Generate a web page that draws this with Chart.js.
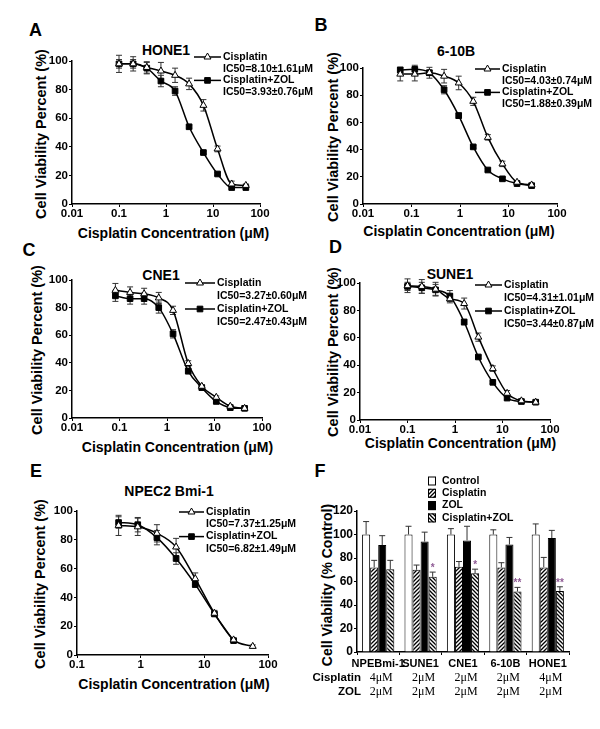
<!DOCTYPE html>
<html>
<head>
<meta charset="utf-8">
<script src="https://cdn.jsdelivr.net/npm/chart.js@4.4.1/dist/chart.umd.min.js"></script>
<style>
body { margin: 0; background: #fff; width: 600px; height: 729px; position: relative; overflow: hidden; font-family: "Liberation Sans", Arial, sans-serif; }
canvas { position: absolute; }
.t { position: absolute; font-weight: bold; color: #000; white-space: nowrap; line-height: 1; transform: translate(-50%, -50%); }
.letter { font-size: 18px; }
.ttl { font-size: 14px; }
.xt { font-size: 14px; }
.yt { font-size: 14.5px; transform: translate(-50%, -50%) rotate(-90deg); }
</style>
</head>
<body>
<div class="t letter" style="left:35.5px;top:30px">A</div>
<div class="t letter" style="left:321px;top:25px">B</div>
<div class="t letter" style="left:29px;top:250px">C</div>
<div class="t letter" style="left:335.5px;top:247px">D</div>
<div class="t letter" style="left:36px;top:471px">E</div>
<div class="t letter" style="left:320px;top:471px">F</div>

<div class="t ttl" style="left:166px;top:50px">HONE1</div>
<div class="t ttl" style="left:456px;top:51px">6-10B</div>
<div class="t ttl" style="left:161px;top:274.5px">CNE1</div>
<div class="t ttl" style="left:450px;top:273.5px">SUNE1</div>
<div class="t ttl" style="left:169px;top:490.5px">NPEC2 Bmi-1</div>

<div class="t xt" style="left:173.5px;top:233px">Cisplatin Concentration (μM)</div>
<div class="t xt" style="left:459px;top:231px">Cisplatin Concentration (μM)</div>
<div class="t xt" style="left:177.5px;top:447px">Cisplatin Concentration (μM)</div>
<div class="t xt" style="left:460.5px;top:443px">Cisplatin Concentration (μM)</div>
<div class="t xt" style="left:174px;top:684px">Cisplatin Concentration (μM)</div>

<div class="t yt" style="left:41px;top:134px">Cell Viability Percent (%)</div>
<div class="t yt" style="left:332.5px;top:137px">Cell Viability Percent (%)</div>
<div class="t yt" style="left:36.5px;top:350px">Cell Viability Percent (%)</div>
<div class="t yt" style="left:332.5px;top:352px">Cell Viability Percent (%)</div>
<div class="t yt" style="left:40px;top:584px">Cell Viability Percent (%)</div>
<div class="t yt" style="left:327px;top:585px;font-size:14px">Cell Viability (% Control)</div>

<canvas id="pA"></canvas>
<canvas id="pB"></canvas>
<canvas id="pC"></canvas>
<canvas id="pD"></canvas>
<canvas id="pE"></canvas>
<canvas id="pF"></canvas>

<script>
// ---- data ----
const decadeTicks = [0.01, 0.1, 1, 10, 100]
const decadeTicksE = [0.1, 1, 10, 100]

// A: HONE1
const hone1Conc = [0.1, 0.2, 0.39, 0.78, 1.56, 3.1, 6.25, 12.5, 25, 50]
const hone1Cis = [98, 98, 95.5, 93, 90, 84, 69, 38.5, 14, 13]
const hone1CisErr = [6, 5, 4, 6, 5, 4, 4, 2, 2, 1]
const hone1Zol = [98, 98, 95, 86, 79, 54, 36, 21, 11.5, 11.5]
const hone1ZolErr = [3, 3, 4, 4, 3, 1, 1, 1, 1, 1]
const hone1Ic50 = ["IC50=8.10±1.61μM", "IC50=3.93±0.76μM"]

// B: 6-10B
const b610Conc = [0.0586, 0.117, 0.234, 0.47, 0.94, 1.875, 3.75, 7.5, 15, 30]
const b610Cis = [95.5, 95.5, 96.5, 94, 89, 75.5, 49, 29.5, 16, 14]
const b610CisErr = [5, 5, 4, 5, 5, 3, 2, 2, 1, 1]
const b610Zol = [98.5, 99, 96.5, 84, 65, 42, 25, 18.5, 15, 13.5]
const b610ZolErr = [2, 3, 2, 3, 2, 1, 1, 1, 1, 1]
const b610Ic50 = ["IC50=4.03±0.74μM", "IC50=1.88±0.39μM"]

// C: CNE1
const cne1Conc = [0.082, 0.167, 0.33, 0.67, 1.34, 2.8, 5.4, 10.9, 21.5, 43]
const cne1Cis = [92.5, 91, 90, 87, 78, 39.5, 23, 15, 8.5, 7]
const cne1CisErr = [5, 4, 4, 4, 3, 2, 1, 1, 1, 1]
const cne1Zol = [88.5, 86.5, 86.5, 80, 61, 34, 22, 12, 7.5, 7]
const cne1ZolErr = [4, 4, 4, 4, 3, 2, 1, 1, 1, 1]
const cne1Ic50 = ["IC50=3.27±0.60μM", "IC50=2.47±0.43μM"]

// D: SUNE1
const sune1Conc = [0.1, 0.2, 0.39, 0.78, 1.56, 3.1, 6.25, 12.5, 25, 50]
const sune1Cis = [98, 97.5, 95.5, 88.5, 85, 60.5, 37.5, 19.5, 14, 13]
const sune1CisErr = [5, 5, 5, 3, 4, 3, 2, 2, 1, 1]
const sune1Zol = [97.5, 96.5, 95, 90.5, 71.5, 46, 27.5, 16, 13.5, 13]
const sune1ZolErr = [3, 4, 4, 4, 2, 1, 1, 1, 1, 1]
const sune1Ic50 = ["IC50=4.31±1.01μM", "IC50=3.44±0.87μM"]

// E: NPEC2 Bmi-1
const npecConc = [0.45, 0.9, 1.8, 3.6, 7.2, 14.4, 28.8, 57.6]
const npecCis = [90, 89, 84.5, 75, 53, 29, 10.5, 6]
const npecCisErr = [7, 6, 6, 6, 4, 2, 1, 1]
const npecZol = [92, 90.5, 81.5, 67, 49, 28.5, 10, null]
const npecZolErr = [4, 5, 5, 4, 2, 1, 1, null]
const npecIc50 = ["IC50=7.37±1.25μM", "IC50=6.82±1.49μM"]

// F: bars
const cellLines = ["NPEBmi-1", "SUNE1", "CNE1", "6-10B", "HONE1"]
const controlVals = [100, 100, 100, 100, 100]
const controlErr = [11, 7, 5, 4, 9]
const cisVals = [72, 70, 72.5, 72, 72]
const cisErr = [6, 4, 4.5, 4, 8.5]
const zolVals = [91, 94, 95, 91.5, 97]
const zolErr = [8, 8, 12, 6, 6.5]
const comboVals = [70.5, 64, 67, 51.5, 52]
const comboErr = [7.5, 4, 3.5, 3.5, 3.5]
const comboSig = ["", "*", "*", "**", "**"]
const cisDose = ["4μM", "2μM", "2μM", "2μM", "4μM"]
const zolDose = ["2μM", "2μM", "2μM", "2μM", "2μM"]

Chart.defaults.font.family = '"Liberation Sans", Arial, sans-serif'
Chart.defaults.color = "#000"
Chart.defaults.animation = false

const pts = (xs, ys) => xs.map((x, i) => ({ x: x, y: ys[i] }))

// error bars: curves get symmetric bars under the markers, bars get an upper bar on top
const errorBars = {
	id: "errorBars",
	beforeDatasetsDraw(chart) { drawErrors(chart, false) },
	afterDatasetsDraw(chart) { drawErrors(chart, true) }
}
function drawErrors(chart, upOnly) {
	const ctx = chart.ctx
	const ys = chart.scales.y
	chart.data.datasets.forEach((ds, i) => {
		if (!ds.errors || !!ds.upOnly !== upOnly) return
		const meta = chart.getDatasetMeta(i)
		ctx.save()
		ctx.strokeStyle = ds.errorColor || "#333"
		ctx.lineWidth = 1
		meta.data.forEach((el, j) => {
			const e = ds.errors[j]
			const raw = ds.data[j]
			const v = raw !== null && typeof raw === "object" ? raw.y : raw
			if (e == null || v == null || el.skip) return
			const x = el.x
			const top = ys.getPixelForValue(v + e)
			const bot = upOnly ? ys.getPixelForValue(v) : ys.getPixelForValue(v - e)
			const c = ds.errorCap || 3
			ctx.beginPath()
			ctx.moveTo(x, bot)
			ctx.lineTo(x, top)
			ctx.moveTo(x - c, top)
			ctx.lineTo(x + c, top)
			if (!upOnly) {
				ctx.moveTo(x - c, bot)
				ctx.lineTo(x + c, bot)
			}
			ctx.stroke()
			if (ds.sig && ds.sig[j]) {
				ctx.fillStyle = "#8e5a94"
				ctx.font = 'bold 10px "Liberation Sans"'
				ctx.textAlign = "center"
				ctx.textBaseline = "middle"
				ctx.fillText(ds.sig[j], x, top - 4)
			}
		})
		ctx.restore()
	})
}

function drawMarker(ctx, style, x, y, r, fill) {
	ctx.beginPath()
	if (style === "triangle") {
		ctx.moveTo(x, y - r)
		ctx.lineTo(x + r * 0.866, y + r * 0.5)
		ctx.lineTo(x - r * 0.866, y + r * 0.5)
		ctx.closePath()
	} else {
		const s = r * Math.SQRT1_2
		ctx.rect(x - s, y - s, 2 * s, 2 * s)
	}
	ctx.fillStyle = fill
	ctx.fill()
	ctx.strokeStyle = "#000"
	ctx.lineWidth = 1
	ctx.stroke()
}

// legend of the curve panels: sample line + marker, name, IC50 line below
const curveLegend = {
	id: "curveLegend",
	afterDraw(chart, args, o) {
		if (!o || o.x == null) return
		const ctx = chart.ctx
		const a = chart.chartArea
		let y = a.top + o.y
		const x = a.left + o.x
		ctx.save()
		ctx.font = 'bold 10.5px "Liberation Sans"'
		ctx.textBaseline = "middle"
		ctx.textAlign = "left"
		chart.data.datasets.forEach(ds => {
			ctx.strokeStyle = "#000"
			ctx.lineWidth = 1.5
			ctx.beginPath()
			ctx.moveTo(x, y)
			ctx.lineTo(x + o.w, y)
			ctx.stroke()
			drawMarker(ctx, ds.pointStyle, x + o.w / 2, y, 4, ds.pointBackgroundColor)
			ctx.fillStyle = "#000"
			ctx.fillText(ds.label, x + o.w + 2, y)
			ctx.fillText(ds.ic50, x + o.w + 2, y + o.gap)
			y += o.gap * 2
		})
		ctx.restore()
	}
}

function curvePanel(id, area, conc, cis, cisE, zol, zolE, ic50, opt) {
	const yW = 50, xH = 40, padT = 20
	const el = document.getElementById(id)
	el.width = area.r - area.l + yW + opt.padR
	el.height = padT + area.b - area.t + xH
	el.style.left = (area.l - yW) + "px"
	el.style.top = (area.t - padT) + "px"
	return new Chart(el.getContext("2d"), {
		type: "line",
		data: {
			datasets: [
				{
					label: "Cisplatin",
					data: pts(conc, cis),
					errors: cisE,
					ic50: ic50[0],
					pointStyle: "triangle",
					pointRadius: 4,
					pointBackgroundColor: "#fff",
					pointBorderColor: "#000",
					pointBorderWidth: 1,
					borderColor: "#000",
					borderWidth: 1.5,
					cubicInterpolationMode: "monotone",
					clip: false
				},
				{
					label: "Cisplatin+ZOL",
					data: pts(conc, zol),
					errors: zolE,
					ic50: ic50[1],
					pointStyle: "rect",
					pointRadius: 4,
					pointBackgroundColor: "#000",
					pointBorderColor: "#000",
					pointBorderWidth: 1,
					borderColor: "#000",
					borderWidth: 1.5,
					cubicInterpolationMode: "monotone",
					clip: false
				}
			]
		},
		options: {
			responsive: false,
			layout: { padding: { left: 0, top: padT, right: opt.padR, bottom: 0 } },
			scales: {
				x: {
					type: "logarithmic",
					min: opt.ticks[0],
					max: 100,
					afterFit: s => { s.height = xH },
					afterBuildTicks: s => { s.ticks = opt.ticks.map(v => ({ value: v })) },
					ticks: {
						autoSkip: false,
						maxRotation: 0,
						padding: 0,
						font: { size: 11.5, weight: "bold" },
						callback: v => String(v)
					},
					grid: { drawOnChartArea: false, tickLength: 3, color: "#000" },
					border: { color: "#000", width: 1.5 }
				},
				y: {
					min: 0,
					max: 100,
					afterFit: s => { s.width = yW },
					ticks: { stepSize: 20, padding: 1, font: { size: 11.5, weight: "bold" } },
					grid: { drawOnChartArea: false, tickLength: 3, color: "#000" },
					border: { color: "#000", width: 1.5 }
				}
			},
			plugins: {
				legend: { display: false },
				tooltip: { enabled: false },
				curveLegend: opt.legend
			}
		},
		plugins: [errorBars, curveLegend]
	})
}

curvePanel("pA", { l: 72, t: 61, r: 260, b: 204 }, hone1Conc, hone1Cis, hone1CisErr, hone1Zol, hone1ZolErr, hone1Ic50,
	{ padR: 62, ticks: decadeTicks, legend: { x: 122, y: -4, w: 27, gap: 11.7 } })
curvePanel("pB", { l: 363, t: 68, r: 557, b: 204 }, b610Conc, b610Cis, b610CisErr, b610Zol, b610ZolErr, b610Ic50,
	{ padR: 40, ticks: decadeTicks, legend: { x: 112, y: 1, w: 25, gap: 11.7 } })
curvePanel("pC", { l: 72, t: 280, r: 262, b: 418 }, cne1Conc, cne1Cis, cne1CisErr, cne1Zol, cne1ZolErr, cne1Ic50,
	{ padR: 50, ticks: decadeTicks, legend: { x: 113, y: 3, w: 30, gap: 13 } })
curvePanel("pD", { l: 360, t: 283, r: 550, b: 420 }, sune1Conc, sune1Cis, sune1CisErr, sune1Zol, sune1ZolErr, sune1Ic50,
	{ padR: 48, ticks: decadeTicks, legend: { x: 115, y: 2, w: 27, gap: 13 } })
curvePanel("pE", { l: 77, t: 511, r: 268, b: 655 }, npecConc, npecCis, npecCisErr, npecZol, npecZolErr, npecIc50,
	{ padR: 45, ticks: decadeTicksE, legend: { x: 102, y: 1, w: 25, gap: 12.3 } })

// ---- F: bar chart ----
function hatch(ctx, dir) {
	const c = document.createElement("canvas")
	c.width = c.height = 4
	const g = c.getContext("2d")
	g.fillStyle = "#fff"
	g.fillRect(0, 0, 4, 4)
	g.strokeStyle = "#000"
	g.lineWidth = 1.3
	g.beginPath()
	if (dir > 0) {
		g.moveTo(-1, 5); g.lineTo(5, -1)
		g.moveTo(3, 5); g.lineTo(5, 3)
		g.moveTo(-1, 1); g.lineTo(1, -1)
	} else {
		g.moveTo(-1, -1); g.lineTo(5, 5)
		g.moveTo(-1, 3); g.lineTo(1, 5)
		g.moveTo(3, -1); g.lineTo(5, 1)
	}
	g.stroke()
	return ctx.createPattern(c, "repeat")
}

const barLegend = {
	id: "barLegend",
	afterDraw(chart, args, o) {
		const ctx = chart.ctx
		const a = chart.chartArea
		ctx.save()
		ctx.font = 'bold 10.5px "Liberation Sans"'
		ctx.textBaseline = "middle"
		ctx.textAlign = "left"
		chart.data.datasets.forEach((ds, i) => {
			const x = a.left + o.x
			const y = a.top + o.y + i * o.gap
			ctx.fillStyle = ds.backgroundColor
			ctx.fillRect(x, y - 4.5, 8, 9)
			ctx.strokeStyle = "#000"
			ctx.lineWidth = 1
			ctx.strokeRect(x + 0.5, y - 4, 7, 8)
			ctx.fillStyle = "#000"
			ctx.fillText(ds.label, x + 14, y)
		})
		ctx.restore()
	}
}

const doseRows = {
	id: "doseRows",
	afterDraw(chart, args, o) {
		const ctx = chart.ctx
		const a = chart.chartArea
		const xs = chart.scales.x
		ctx.save()
		ctx.textBaseline = "middle"
		o.rows.forEach((row, r) => {
			const y = a.bottom + o.y[r]
			ctx.font = 'bold 11.5px "Liberation Sans"'
			ctx.textAlign = "right"
			ctx.fillStyle = "#000"
			ctx.fillText(row[0], a.left + o.nameX, y)
			ctx.font = '12px "Liberation Serif"'
			ctx.textAlign = "center"
			row[1].forEach((v, i) => ctx.fillText(v, xs.getPixelForTick(i) + 3, y))
		})
		ctx.restore()
	}
}

const fArea = { l: 357, t: 511, r: 569, b: 652 }
const fEl = document.getElementById("pF")
const fYW = 50, fXH = 50, fPadT = 35, fPadR = 25
fEl.width = fArea.r - fArea.l + fYW + fPadR
fEl.height = fPadT + fArea.b - fArea.t + fXH
fEl.style.left = (fArea.l - fYW) + "px"
fEl.style.top = (fArea.t - fPadT) + "px"
const fCtx = fEl.getContext("2d")

new Chart(fCtx, {
	type: "bar",
	data: {
		labels: cellLines,
		datasets: [
			{ label: "Control", data: controlVals, errors: controlErr, upOnly: true, backgroundColor: "#fff", borderColor: "#000", borderWidth: 1 },
			{ label: "Cisplatin", data: cisVals, errors: cisErr, upOnly: true, backgroundColor: hatch(fCtx, 1), borderColor: "#000", borderWidth: 1 },
			{ label: "ZOL", data: zolVals, errors: zolErr, upOnly: true, backgroundColor: "#000", borderColor: "#000", borderWidth: 1 },
			{ label: "Cisplatin+ZOL", data: comboVals, errors: comboErr, sig: comboSig, upOnly: true, backgroundColor: hatch(fCtx, -1), borderColor: "#000", borderWidth: 1 }
		]
	},
	options: {
		responsive: false,
		layout: { padding: { left: 0, top: fPadT, right: fPadR, bottom: 0 } },
		datasets: { bar: { categoryPercentage: 0.76, barPercentage: 1 } },
		scales: {
			x: {
				afterFit: s => { s.height = fXH },
				ticks: { autoSkip: false, maxRotation: 0, padding: 2, font: { size: 11, weight: "bold" } },
				grid: { drawOnChartArea: false, tickLength: 3, color: "#000", offset: true },
				border: { color: "#000", width: 1.5 }
			},
			y: {
				min: 0,
				max: 120,
				afterFit: s => { s.width = fYW },
				ticks: { stepSize: 20, padding: 1, font: { size: 12, weight: "bold" } },
				grid: { drawOnChartArea: false, tickLength: 3, color: "#000" },
				border: { color: "#000", width: 1.5 }
			}
		},
		plugins: {
			legend: { display: false },
			tooltip: { enabled: false },
			barLegend: { x: 71, y: -30, gap: 12.3 },
			doseRows: { rows: [["Cisplatin", cisDose], ["ZOL", zolDose]], y: [26, 40], nameX: 4 }
		}
	},
	plugins: [errorBars, barLegend, doseRows]
})
</script>
</body>
</html>
